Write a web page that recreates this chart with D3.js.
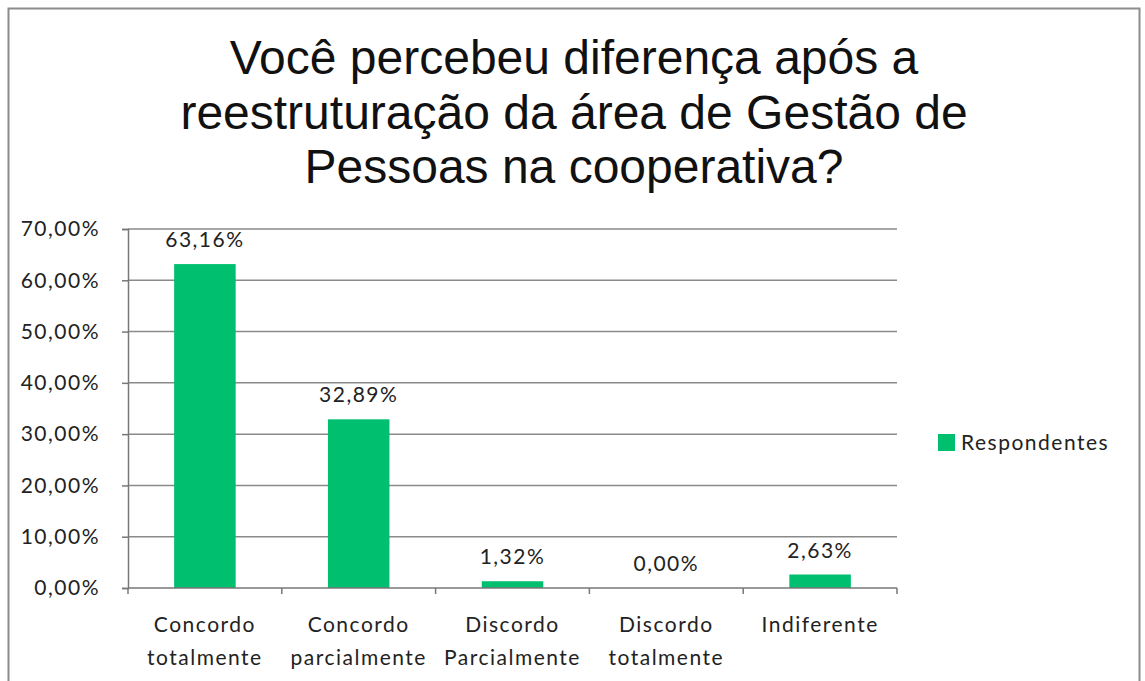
<!DOCTYPE html>
<html>
<head>
<meta charset="utf-8">
<script src="https://cdn.jsdelivr.net/npm/d3@7"></script>
<style>
  html, body { margin: 0; padding: 0; background: #fff; }
  svg { display: block; }
</style>
</head>
<body>
<svg id="chart" width="1145" height="681"></svg>
<script>
// Survey answers and share of respondents
const categories = [
  ["Concordo", "totalmente"],
  ["Concordo", "parcialmente"],
  ["Discordo", "Parcialmente"],
  ["Discordo", "totalmente"],
  ["Indiferente"]
];
const respondentes = [63.16, 32.89, 1.32, 0.00, 2.63];
const yTicks = [0, 10, 20, 30, 40, 50, 60, 70];
const titleLines = [
  "Você percebeu diferença após a",
  "reestruturação da área de Gestão de",
  "Pessoas na cooperativa?"
];
const seriesName = "Respondentes";

const svg = d3.select("#chart");
const green = "#00BF6E";
const labelFont = "Lato, 'Open Sans', sans-serif";
const labelSize = 21;
const labelSpacing = 1.5;

const pct = d => d3.format(".2f")(d).replace(".", ",") + "%";

// outer frame
svg.append("rect")
  .attr("x", 8.5).attr("y", 8.5)
  .attr("width", 1131).attr("height", 690)
  .attr("fill", "#fff").attr("stroke", "#8c8c8c").attr("stroke-width", 2);

// title
svg.append("g").selectAll("text").data(titleLines).join("text")
  .attr("x", 574).attr("y", (d, i) => 74 + i * 54.5)
  .attr("text-anchor", "middle")
  .attr("font-family", "'Liberation Sans', Arial, sans-serif")
  .attr("font-size", 48)
  .attr("fill", "#111")
  .text(d => d);

const plot = { left: 128, right: 897, top: 229, bottom: 588 };

const x = d3.scaleBand()
  .domain(d3.range(categories.length))
  .range([plot.left, plot.right])
  .paddingInner(0.6).paddingOuter(0.3);

const xOuter = d3.scaleBand()
  .domain(d3.range(categories.length))
  .range([plot.left, plot.right]);

const y = d3.scaleLinear().domain([0, 70]).range([plot.bottom, plot.top]);

const styleLabel = sel => sel
  .attr("font-family", labelFont).attr("font-size", labelSize)
  .attr("letter-spacing", labelSpacing).attr("fill", "#222");

// gridlines
svg.append("g").selectAll("line").data(yTicks.filter(t => t > 0)).join("line")
  .attr("x1", plot.left).attr("x2", plot.right)
  .attr("y1", d => y(d)).attr("y2", d => y(d))
  .attr("stroke", "#8a8a8a").attr("stroke-width", 1.5);

// y axis
const yAxis = svg.append("g")
  .attr("transform", `translate(${plot.left},0)`)
  .call(d3.axisLeft(y).tickValues(yTicks).tickSize(6).tickPadding(22)
    .tickFormat(pct));
yAxis.select(".domain").attr("stroke", "#777").attr("stroke-width", 1.5);
yAxis.selectAll(".tick line").attr("stroke", "#777").attr("stroke-width", 1.5);
yAxis.selectAll("text").call(styleLabel);

// bars
svg.append("g").selectAll("rect").data(respondentes).join("rect")
  .attr("x", (d, i) => x(i))
  .attr("width", x.bandwidth())
  .attr("y", d => y(d))
  .attr("height", d => y(0) - y(d))
  .attr("fill", green);

// value labels
svg.append("g").selectAll("text").data(respondentes).join("text")
  .attr("x", (d, i) => x(i) + x.bandwidth() / 2)
  .attr("y", d => y(d) - 17)
  .attr("text-anchor", "middle")
  .call(styleLabel)
  .text(pct);

// x axis line and boundary ticks
svg.append("line")
  .attr("x1", plot.left).attr("x2", plot.right)
  .attr("y1", y(0)).attr("y2", y(0))
  .attr("stroke", "#777").attr("stroke-width", 1.5);
const bounds = d3.range(categories.length + 1).map(i =>
  i < categories.length ? xOuter(i) : xOuter(i - 1) + xOuter.bandwidth());
svg.append("g").selectAll("line").data(bounds).join("line")
  .attr("x1", d => d).attr("x2", d => d)
  .attr("y1", y(0)).attr("y2", y(0) + 6)
  .attr("stroke", "#777").attr("stroke-width", 1.5);

// category labels
const cat = svg.append("g").selectAll("text").data(categories).join("text")
  .attr("text-anchor", "middle")
  .call(styleLabel);
cat.selectAll("tspan").data((d, i) => d.map(s => ({ s, i }))).join("tspan")
  .attr("x", d => xOuter(d.i) + xOuter.bandwidth() / 2)
  .attr("y", (d, j) => 632 + j * 33)
  .text(d => d.s);

// legend
const lg = svg.append("g").attr("transform", "translate(938,434)");
lg.append("rect").attr("width", 17).attr("height", 17).attr("fill", green);
lg.append("text").attr("x", 23).attr("y", 16)
  .call(styleLabel)
  .text(seriesName);
</script>
</body>
</html>
